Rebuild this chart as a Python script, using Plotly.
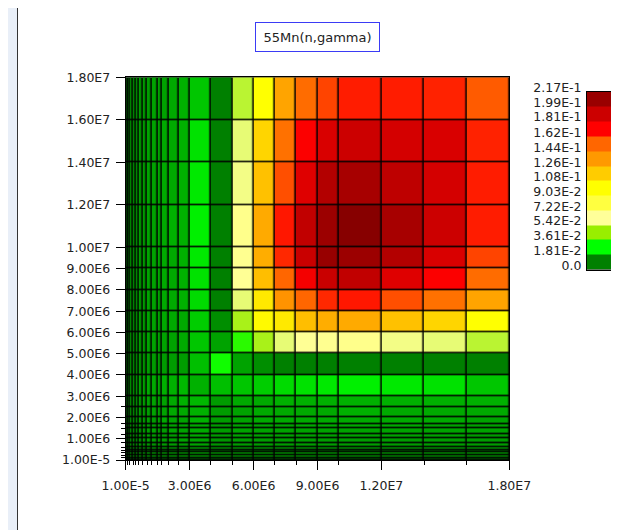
import numpy as np
import plotly.graph_objects as go

# energy group boundaries (eV)
energy_edges = [1e-5, 1e5, 2e5, 3.5e5, 4.5e5, 6e5, 8e5, 1e6, 1.2e6, 1.5e6, 1.7e6,
                2e6, 2.5e6, 3e6, 4e6, 5e6, 6e6, 7e6, 8e6, 9e6, 1e7, 1.2e7, 1.4e7,
                1.6e7, 1.8e7]

# upper triangle of the covariance matrix, row i holds groups i..23
r0 = [0.002, 0.002, 0.002, 0.002, 0.002, 0.002, 0.002, 0.002, 0.002, 0.002, 0.002, 0.002, 0.003,
      0.003, 0.002, 0.002, 0.002, 0.002, 0.002, 0.002, 0.002, 0.002, 0.002, 0.002]
r1 = [0.003, 0.002, 0.002, 0.002, 0.002, 0.002, 0.002, 0.002, 0.002, 0.002, 0.003, 0.003,
      0.003, 0.002, 0.002, 0.002, 0.002, 0.002, 0.002, 0.002, 0.002, 0.002, 0.002]
r2 = [0.003, 0.003, 0.003, 0.003, 0.003, 0.003, 0.003, 0.003, 0.003, 0.003, 0.003,
      0.004, 0.003, 0.003, 0.003, 0.003, 0.003, 0.003, 0.003, 0.003, 0.003, 0.003]
r3 = [0.003, 0.003, 0.003, 0.003, 0.003, 0.003, 0.003, 0.003, 0.003, 0.004,
      0.004, 0.003, 0.003, 0.003, 0.003, 0.003, 0.003, 0.003, 0.003, 0.003, 0.003]
r4 = [0.004, 0.003, 0.003, 0.003, 0.003, 0.003, 0.003, 0.004, 0.004,
      0.005, 0.003, 0.004, 0.004, 0.004, 0.004, 0.004, 0.004, 0.004, 0.004, 0.004]
r5 = [0.004, 0.003, 0.003, 0.003, 0.004, 0.004, 0.004, 0.004,
      0.005, 0.003, 0.004, 0.004, 0.004, 0.004, 0.004, 0.004, 0.004, 0.004, 0.004]
r6 = [0.004, 0.004, 0.004, 0.004, 0.004, 0.004, 0.005,
      0.005, 0.003, 0.004, 0.004, 0.004, 0.004, 0.004, 0.004, 0.004, 0.004, 0.004]
r7 = [0.005, 0.004, 0.004, 0.004, 0.004, 0.005,
      0.006, 0.004, 0.005, 0.005, 0.005, 0.005, 0.005, 0.005, 0.005, 0.005, 0.004]
r8 = [0.005, 0.004, 0.004, 0.005, 0.005,
      0.006, 0.004, 0.005, 0.005, 0.005, 0.005, 0.005, 0.005, 0.005, 0.005, 0.005]
r9 = [0.005, 0.005, 0.005, 0.005,
      0.006, 0.004, 0.005, 0.005, 0.005, 0.006, 0.006, 0.006, 0.006, 0.005, 0.005]
r10 = [0.006, 0.005, 0.005,
       0.007, 0.004, 0.005, 0.006, 0.006, 0.006, 0.006, 0.006, 0.006, 0.006, 0.005]
r11 = [0.006, 0.006,
       0.007, 0.004, 0.005, 0.006, 0.006, 0.006, 0.006, 0.007, 0.006, 0.006, 0.006]
r12 = [0.007,
       0.008, 0.004, 0.006, 0.006, 0.007, 0.007, 0.007, 0.007, 0.007, 0.007, 0.007]
r13 = [0.007, 0.009, 0.010, 0.011, 0.013, 0.014, 0.015, 0.016, 0.015, 0.014, 0.010]
r14 = [0.020, 0.005, 0.002, 0.0, 0.0, 0.0, 0.0, 0.0, 0.0, 0.0]
r15 = [0.023, 0.039, 0.050, 0.055, 0.056, 0.057, 0.052, 0.050, 0.042]
r16 = [0.092, 0.098, 0.113, 0.119, 0.120, 0.112, 0.105, 0.090]
r17 = [0.128, 0.144, 0.155, 0.158, 0.148, 0.140, 0.122]
r18 = [0.166, 0.182, 0.185, 0.174, 0.163, 0.142]
r19 = [0.200, 0.198, 0.190, 0.176, 0.150]
r20 = [0.212, 0.194, 0.181, 0.157]
r21 = [0.186, 0.178, 0.157]
r22 = [0.176, 0.156]
r23 = [0.146]
upper_rows = [r0, r1, r2, r3, r4, r5, r6, r7, r8, r9, r10, r11, r12,
              r13, r14, r15, r16, r17, r18, r19, r20, r21, r22, r23]

levels = [0.0, 0.0181, 0.0361, 0.0542, 0.0722, 0.0903, 0.108, 0.126, 0.144,
          0.162, 0.181, 0.199, 0.217]
level_labels = ["0.0", "1.81E-2", "3.61E-2", "5.42E-2", "7.22E-2", "9.03E-2", "1.08E-1",
                "1.26E-1", "1.44E-1", "1.62E-1", "1.81E-1", "1.99E-1", "2.17E-1"]
level_colors = ["#008000", "#00ff00", "#99ee00", "#ffff99", "#ffff40", "#ffff00", "#ffcc00",
                "#ff9900", "#ff6600", "#ff0000", "#cc0000", "#990000", "#800000"]

x_ticks = [0, 3e6, 6e6, 9e6, 1.2e7, 1.8e7]
x_tick_text = ["1.00E-5", "3.00E6", "6.00E6", "9.00E6", "1.20E7", "1.80E7"]
y_ticks = [0, 1e6, 2e6, 3e6, 4e6, 5e6, 6e6, 7e6, 8e6, 9e6, 1e7, 1.2e7, 1.4e7, 1.6e7, 1.8e7]
y_tick_text = ["1.00E-5", "1.00E6", "2.00E6", "3.00E6", "4.00E6", "5.00E6", "6.00E6",
               "7.00E6", "8.00E6", "9.00E6", "1.00E7", "1.20E7", "1.40E7", "1.60E7", "1.80E7"]

n = len(upper_rows)
z = np.zeros((n, n))
for i, row in enumerate(upper_rows):
    for k, v in enumerate(row):
        z[i, i + k] = v
        z[i + k, i] = v

zmax = levels[-1]
colorscale = [[lv / zmax, c] for lv, c in zip(levels, level_colors)]

# the page puts the figure 8px in from the top-left corner
OX, OY = 8, 8
W, H = 611, 522


def px(x):
    return (x - OX) / W


def py(y):
    return 1 - (y - OY) / H


FONT = "DejaVu Sans"
tick_font = dict(family=FONT, size=12.5, color="#222")
PAGE = "#e9eff8"

fig = go.Figure()
fig.add_trace(go.Heatmap(
    x=energy_edges, y=energy_edges, z=z,
    zmin=0, zmax=zmax, colorscale=colorscale,
    xgap=1.5, ygap=1.5, showscale=False, hoverinfo="skip",
))
# banded legend bar
fig.add_trace(go.Heatmap(
    x=[0, 1], y=levels, z=[[lv] for lv in levels[:-1]],
    zmin=0, zmax=zmax, colorscale=colorscale,
    showscale=False, hoverinfo="skip", xaxis="x2", yaxis="y2",
))

axis_common = dict(
    tickmode="array", ticks="outside", ticklen=9, tickcolor="black", tickwidth=1,
    showline=True, linecolor="black", linewidth=1, mirror=True, automargin=False,
    showgrid=False, zeroline=False, tickfont=tick_font,
    minor=dict(tickmode="array", tickvals=energy_edges, ticks="outside",
               ticklen=4, tickcolor="black", showgrid=False),
)

fig.update_layout(
    template="none",
    width=W, height=H,
    margin=dict(l=0, r=0, t=0, b=0, pad=0),
    paper_bgcolor="white",
    plot_bgcolor="black",
    showlegend=False,
    xaxis=dict(axis_common, domain=[px(125.7), px(509.3)], range=[0, 1.8e7],
               tickvals=x_ticks, ticktext=x_tick_text, anchor="y",
               ticklabelstandoff=5),
    yaxis=dict(axis_common, domain=[py(460), py(77.3)], range=[0, 1.8e7],
               tickvals=y_ticks, ticktext=y_tick_text, anchor="x",
               ticklabelstandoff=3),
    xaxis2=dict(domain=[px(587), px(612)], range=[0, 1], anchor="y2", automargin=False,
                showticklabels=False, ticks="", showgrid=False, zeroline=False,
                showline=True, linecolor="black", mirror=True),
    yaxis2=dict(domain=[py(269.5), py(91.5)], range=[0, zmax], anchor="x2",
                tickmode="array", tickvals=levels, ticktext=level_labels, ticks="",
                tickfont=tick_font, ticklabelshift=-4, ticklabelstandoff=2,
                showgrid=False, zeroline=False, automargin=False,
                showline=True, linecolor="black", mirror=True),
    shapes=[
        # page background around the white panel
        dict(type="rect", xref="paper", yref="paper", layer="below",
             x0=px(0), x1=px(17), y0=0, y1=1.1, fillcolor=PAGE, line_width=0),
        dict(type="rect", xref="paper", yref="paper", layer="below",
             x0=px(0), x1=1, y0=py(6), y1=1.1, fillcolor=PAGE, line_width=0),
        dict(type="rect", xref="paper", yref="paper", layer="below",
             x0=px(617), x1=1, y0=0, y1=1.1, fillcolor=PAGE, line_width=0),
        # panel frame
        dict(type="rect", xref="paper", yref="paper", layer="above",
             x0=px(17.5), x1=px(616.5), y0=-0.05, y1=py(6.5),
             line=dict(color="#333", width=1)),
    ],
    annotations=[dict(text="55Mn(n,gamma)", xref="paper", yref="paper",
                      x=px(317), y=py(37), xanchor="center", yanchor="middle",
                      showarrow=False,
                      font=dict(family=FONT, size=13, color="#222"),
                      bgcolor="white", bordercolor="#3b3bf5", borderwidth=1,
                      borderpad=5, width=113, height=18)],
)

fig.write_html("out.html")
